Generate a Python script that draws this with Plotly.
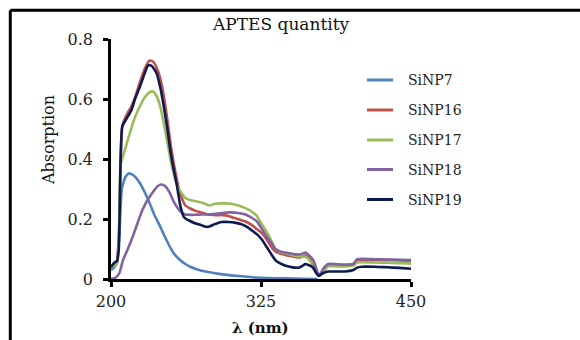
import plotly.graph_objects as go

# ---------------- data ----------------
series_names = ["SiNP7", "SiNP16", "SiNP17", "SiNP18", "SiNP19"]
series_colors = ["#4F81BD", "#C0504D", "#9BBB59", "#8064A2", "#0E1A52"]

wl7 = [200, 203, 205, 207, 209, 212, 215, 219, 224, 228, 232, 236, 241, 245, 249, 253,
       258, 262, 266, 272, 280, 290, 300, 310, 320, 330, 345, 360, 372]
a7 = [0.03, 0.04, 0.06, 0.15, 0.30, 0.34, 0.352, 0.345, 0.32, 0.29, 0.255, 0.215, 0.175,
      0.14, 0.108, 0.082, 0.062, 0.05, 0.041, 0.032, 0.024, 0.017, 0.012, 0.009, 0.005,
      0.003, 0.002, 0.001, 0.0]

wl16 = [200, 203, 205, 207, 209, 211, 214, 217, 220, 224, 228, 232, 235, 238, 241, 244,
        247, 250, 253, 256, 259, 262, 266, 270, 275, 281, 287, 293, 298, 303, 308, 313,
        318, 322, 326, 330, 334, 337, 341, 345, 349, 354, 358, 362, 366, 369, 373, 377,
        381, 388, 395, 402, 405, 410, 420, 430, 440, 450]
a16 = [0.04, 0.05, 0.06, 0.2, 0.5, 0.53, 0.555, 0.575, 0.605, 0.655, 0.70, 0.728, 0.725,
       0.705, 0.67, 0.61, 0.53, 0.44, 0.37, 0.31, 0.27, 0.245, 0.235, 0.228, 0.222, 0.215,
       0.213, 0.213, 0.21, 0.203, 0.197, 0.19, 0.178, 0.165, 0.152, 0.13, 0.105, 0.092,
       0.085, 0.08, 0.077, 0.073, 0.072, 0.078, 0.065, 0.04, 0.012, 0.03, 0.048, 0.047,
       0.046, 0.05, 0.062, 0.064, 0.064, 0.063, 0.062, 0.06]

wl17 = [200, 203, 205, 207, 208, 210, 213, 216, 220, 224, 228, 232, 235, 238, 241, 244,
        247, 250, 253, 256, 259, 262, 266, 270, 275, 279, 282, 286, 291, 296, 301, 306,
        311, 316, 321, 326, 330, 334, 337, 341, 345, 349, 354, 358, 362, 366, 369, 373,
        377, 381, 388, 395, 402, 405, 410, 420, 430, 440, 450]
a17 = [0.04, 0.045, 0.05, 0.2, 0.38, 0.41, 0.45, 0.49, 0.54, 0.575, 0.605, 0.622, 0.625,
       0.61, 0.575, 0.52, 0.455, 0.39, 0.34, 0.305, 0.285, 0.27, 0.263, 0.26, 0.255, 0.25,
       0.245, 0.25, 0.252, 0.252, 0.25, 0.245, 0.238, 0.228, 0.213, 0.18, 0.155, 0.125,
       0.1, 0.09, 0.085, 0.082, 0.077, 0.074, 0.074, 0.06, 0.035, 0.01, 0.025, 0.042,
       0.042, 0.042, 0.045, 0.055, 0.056, 0.055, 0.054, 0.053, 0.052]

wl18 = [200, 204, 207, 210, 214, 218, 222, 226, 230, 235, 239, 242, 245, 249, 252, 255,
        258, 261, 265, 270, 276, 282, 288, 294, 300, 306, 312, 317, 322, 326, 330, 334,
        337, 341, 345, 349, 354, 358, 362, 366, 369, 371, 373, 375, 377, 381, 388, 395,
        402, 405, 410, 420, 430, 440, 450]
a18 = [0.0, 0.005, 0.02, 0.063, 0.1, 0.14, 0.185, 0.228, 0.26, 0.29, 0.31, 0.315, 0.31,
       0.287, 0.26, 0.24, 0.225, 0.216, 0.214, 0.214, 0.215, 0.215, 0.217, 0.221, 0.222,
       0.22, 0.215, 0.205, 0.19, 0.165, 0.14, 0.118, 0.1, 0.092, 0.088, 0.086, 0.082,
       0.082, 0.088, 0.075, 0.06, 0.035, 0.013, 0.02, 0.035, 0.05, 0.049, 0.048, 0.05,
       0.066, 0.067, 0.066, 0.065, 0.064, 0.063]

wl19 = [200, 203, 205, 206.5, 208, 209.5, 213, 217, 220, 224, 228, 231, 234, 238, 241,
        244, 247, 249, 252, 255, 258, 261, 265, 270, 275, 279, 282, 286, 292, 298, 304,
        309, 314, 318, 322, 326, 330, 334, 337, 341, 345, 349, 353, 357, 360, 362, 365,
        368, 371, 373, 375, 377, 381, 388, 395, 402, 405, 409, 420, 430, 440, 450]
a19 = [0.04, 0.055, 0.06, 0.1, 0.4, 0.51, 0.535, 0.563, 0.6, 0.64, 0.685, 0.713, 0.71,
       0.686, 0.64, 0.575, 0.5, 0.44, 0.37, 0.31, 0.24, 0.205, 0.195, 0.186, 0.18, 0.174,
       0.175, 0.182, 0.19, 0.19, 0.187, 0.182, 0.172, 0.16, 0.148, 0.13, 0.105, 0.08,
       0.063, 0.052, 0.045, 0.041, 0.038, 0.038, 0.045, 0.05, 0.046, 0.04, 0.02, 0.01,
       0.015, 0.02, 0.025, 0.025, 0.025, 0.03, 0.038, 0.041, 0.041, 0.039, 0.037, 0.034]

x_ticks = [200, 325, 450]
y_ticks = [0, 0.2, 0.4, 0.6, 0.8]
y_tick_labels = ["0", "0.2", "0.4", "0.6", "0.8"]

title_text = "APTES quantity"
x_title = "<b>λ (nm)</b>"
y_title = "Absorption"

xs = [wl7, wl16, wl17, wl18, wl19]
ys = [a7, a16, a17, a18, a19]

# ---------------- figure ----------------
FONT = "DejaVu Serif"
W, H = 580, 340
L, R, T, B = 111, 169, 39, 61
PW, PH = W - L - R, H - T - B


def px(xp):
    return (xp - L) / PW


def py(yp):
    return (H - B - yp) / PH


fig = go.Figure()
for name, color, x, y in zip(series_names, series_colors, xs, ys):
    fig.add_trace(go.Scatter(
        x=x, y=y, name=name, mode="lines",
        line=dict(color=color, width=2.6, shape="spline", smoothing=0.5),
        showlegend=False,
    ))

shapes = []
annotations = []

# frame (left and top border)
shapes.append(dict(type="line", xref="paper", yref="paper",
                   x0=px(10.3), x1=px(10.3), y0=py(345), y1=py(10.3),
                   line=dict(color="black", width=3)))
shapes.append(dict(type="line", xref="paper", yref="paper",
                   x0=px(10.3), x1=px(590), y0=py(10.3), y1=py(10.3),
                   line=dict(color="black", width=3)))

# manual legend
legend_rows = [80, 110, 140, 169.5, 199.5]
for name, color, yr in zip(series_names, series_colors, legend_rows):
    shapes.append(dict(type="line", xref="paper", yref="paper",
                       x0=px(367), x1=px(393), y0=py(yr), y1=py(yr),
                       line=dict(color=color, width=3)))
    annotations.append(dict(text=name, xref="paper", yref="paper",
                            x=px(406), y=py(yr), xanchor="left", yanchor="middle",
                            showarrow=False,
                            font=dict(family=FONT, size=14, color="#222")))

# title and axis titles
annotations.append(dict(text=title_text, xref="paper", yref="paper",
                        x=px(281), y=py(24), xanchor="center", yanchor="middle",
                        showarrow=False, font=dict(family=FONT, size=17, color="#111")))
annotations.append(dict(text=x_title, xref="paper", yref="paper",
                        x=px(260), y=py(328), xanchor="center", yanchor="middle",
                        showarrow=False, font=dict(family=FONT, size=15, color="#111")))
annotations.append(dict(text=y_title, xref="paper", yref="paper",
                        x=px(48), y=py(140), xanchor="center", yanchor="middle",
                        textangle=-90, showarrow=False,
                        font=dict(family=FONT, size=16, color="#111")))

fig.update_layout(
    width=W, height=H,
    margin=dict(l=L, r=R, t=T, b=B, pad=0),
    paper_bgcolor="white", plot_bgcolor="white",
    shapes=shapes, annotations=annotations,
    showlegend=False,
    xaxis=dict(range=[200, 450], tickvals=x_ticks, ticktext=[str(v) for v in x_ticks],
               showgrid=False, zeroline=False, showline=True, linecolor="black",
               linewidth=2.5, ticks="outside", ticklen=5, tickwidth=2.5,
               tickcolor="black", ticklabelstandoff=1,
               tickfont=dict(family=FONT, size=16, color="#222")),
    yaxis=dict(range=[0, 0.8], tickvals=y_ticks, ticktext=y_tick_labels,
               showgrid=False, zeroline=False, showline=True, linecolor="black",
               linewidth=2.5, ticks="outside", ticklen=5, tickwidth=2.5,
               tickcolor="black", ticklabelstandoff=7,
               tickfont=dict(family=FONT, size=16, color="#222")),
)

fig.write_html("out.html")
